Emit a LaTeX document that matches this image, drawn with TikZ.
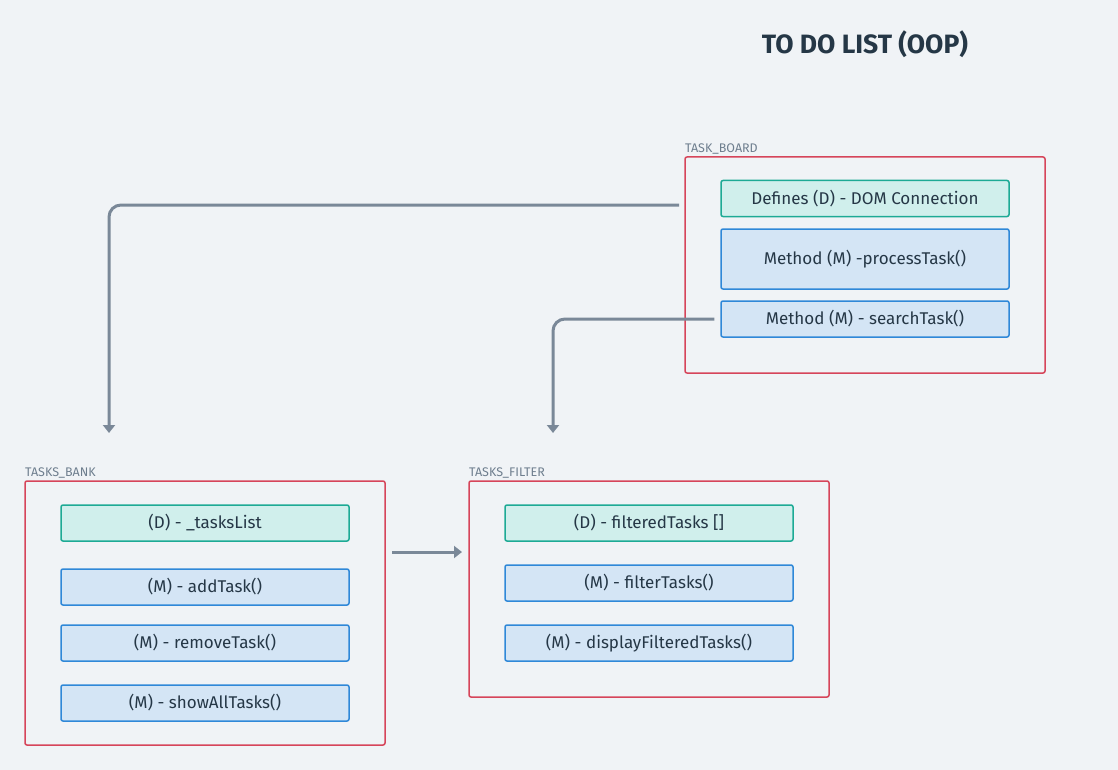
\documentclass[tikz,border=0pt]{standalone}
\usepackage{fontspec}
\setmainfont{Fira Sans}
\usetikzlibrary{arrows.meta}
\definecolor{bg}{HTML}{F0F3F6}
\definecolor{ink}{HTML}{253746}
\definecolor{lbl}{HTML}{6E7E8E}
\definecolor{frame}{HTML}{D6455A}
\definecolor{tealb}{HTML}{1DAA95}
\definecolor{tealf}{HTML}{D0EFEC}
\definecolor{blueb}{HTML}{2F88D8}
\definecolor{bluef}{HTML}{D4E5F5}
\definecolor{wire}{HTML}{7A8898}
\tikzset{
  container/.style={draw=frame, line width=1.5pt, rounded corners=2pt},
  grp/.style={font=\fontsize{12.5}{14}\selectfont, text=lbl, anchor=south west, inner sep=0pt},
  dbox/.style={draw=tealb, fill=tealf, line width=1.5pt, rounded corners=2pt, minimum width=288pt, minimum height=36pt, inner sep=0pt, font=\fontsize{17}{20}\selectfont, text=ink},
  mbox/.style={draw=blueb, fill=bluef, line width=1.5pt, rounded corners=2pt, minimum width=288pt, minimum height=36pt, inner sep=0pt, font=\fontsize{17}{20}\selectfont, text=ink},
  conn/.style={draw=wire, line width=3pt, rounded corners=12pt, -{Triangle[width=12pt,length=8pt]}},
}
\begin{document}
\begin{tikzpicture}[x=1pt,y=-1pt]
\fill[bg] (0,0) rectangle (1118,770);
\useasboundingbox (0,0) rectangle (1118,770);

\node[font=\bfseries\fontsize{26.5}{30}\selectfont, text=ink] (title) at (865,44) {TO DO LIST (OOP)};

% TASK_BOARD
\draw[container] (685,157) rectangle (1045,373);
\node[grp] (boardlbl) at (685,154) {TASK\_BOARD};
\node[dbox] (dom) at (865,198.5) {Defines (D) - DOM Connection};
\node[mbox, minimum height=60pt] (process) at (865,259) {Method (M) -processTask()};
\node[mbox] (search) at (865,319) {Method (M) - searchTask()};

% TASKS_BANK
\draw[container] (25,481) rectangle (385,745);
\node[grp] (banklbl) at (25,478) {TASKS\_BANK};
\node[dbox] (tlist) at (205,523) {(D) - \_tasksList};
\node[mbox] (add) at (205,587) {(M) - addTask()};
\node[mbox] (remove) at (205,643) {(M) - removeTask()};
\node[mbox] (showall) at (205,703) {(M) - showAllTasks()};

% TASKS_FILTER
\draw[container] (469,481) rectangle (829,697);
\node[grp] (filterlbl) at (469,478) {TASKS\_FILTER};
\node[dbox] (ftasks) at (649,523) {(D) - filteredTasks []};
\node[mbox] (filter) at (649,583) {(M) - filterTasks()};
\node[mbox] (display) at (649,643) {(M) - displayFilteredTasks()};

% connectors
\coordinate (s1) at (679,205);
\coordinate (e1) at (109,433);
\coordinate (s2) at ([xshift=-6pt]search.west);
\coordinate (e2) at (553,433);
\coordinate (s3) at (392,552);
\coordinate (e3) at (462,552);
\draw[conn] (s1) -| (e1);
\draw[conn] (s2) -| (e2);
\draw[conn, rounded corners=0pt] (s3) -- (e3);
\end{tikzpicture}
\end{document}
